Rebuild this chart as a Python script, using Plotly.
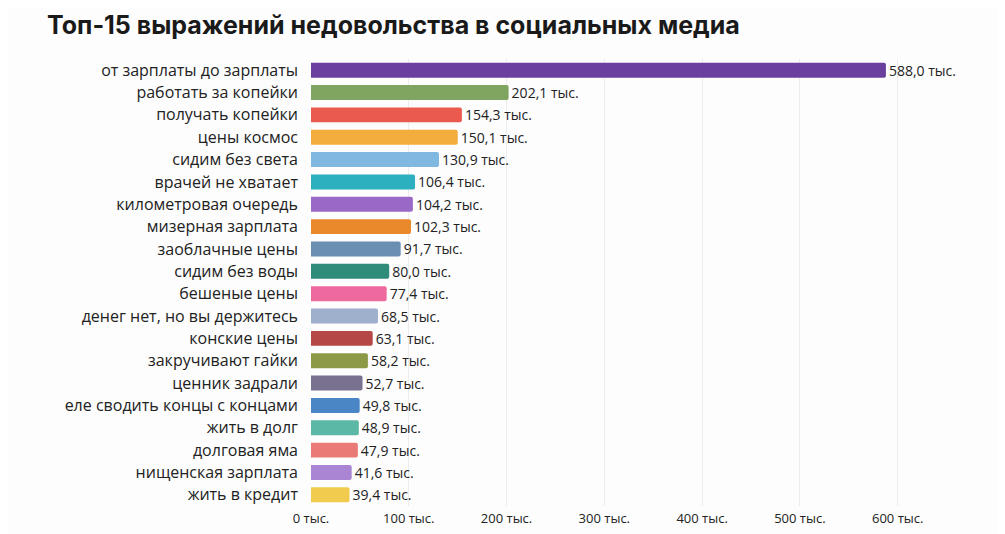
import plotly.graph_objects as go

categories = [
    "от зарплаты до зарплаты", "работать за копейки", "получать копейки", "цены космос",
    "сидим без света", "врачей не хватает", "километровая очередь", "мизерная зарплата",
    "заоблачные цены", "сидим без воды", "бешеные цены", "денег нет, но вы держитесь",
    "конские цены", "закручивают гайки", "ценник задрали", "еле сводить концы с концами",
    "жить в долг", "долговая яма", "нищенская зарплата", "жить в кредит",
]
values = [588.0, 202.1, 154.3, 150.1, 130.9, 106.4, 104.2, 102.3, 91.7, 80.0,
          77.4, 68.5, 63.1, 58.2, 52.7, 49.8, 48.9, 47.9, 41.6, 39.4]
colors = [
    "#6a3f9e", "#7fa561", "#ea5a4e", "#f2ad3d", "#80b8e2", "#2cb0c0", "#9a68c6",
    "#e9892b", "#6a8fb2", "#2f8b7a", "#ee6a9e", "#9fb0cd", "#b54846", "#8c9a48",
    "#79718f", "#4a86c6", "#5cb8a6", "#e97a76", "#a985d4", "#f1cb4e",
]
tick_vals = [0, 100, 200, 300, 400, 500, 600]
tick_text = [f"{v} тыс." for v in tick_vals]
labels = [f"{v:.1f}".replace(".", ",") + " тыс." for v in values]

FONT = "Open Sans"

fig = go.Figure(go.Bar(
    x=values, y=categories, orientation="h",
    marker=dict(color=colors, line=dict(width=0), cornerradius=2),
    text=labels, textposition="outside", cliponaxis=False, constraintext="none",
    textfont=dict(family=FONT, size=14, color="#222222"),
    width=0.67,
))

fig.update_layout(
    width=1005, height=534,
    paper_bgcolor="#fdfdfd", plot_bgcolor="#fdfdfd",
    margin=dict(l=303, r=86, t=51, b=36),
    showlegend=False,
    title=dict(text="<b>Топ-15 выражений недовольства в социальных медиа</b>",
               x=39/1005, xanchor="left", y=1 - 17/534, yanchor="middle",
               font=dict(family="Inter", size=25, color="#1a1a1a")),
    font=dict(family=FONT, color="#222222"),
    xaxis=dict(range=[0, 630], tickvals=tick_vals, ticktext=tick_text,
               showgrid=True, gridcolor="#ececec", gridwidth=1, zeroline=False,
               showline=False, tickfont=dict(family=FONT, size=13, color="#222222"),
               ticks="", ticklabelstandoff=3),
    yaxis=dict(range=[19.5, -0.5], showgrid=False, zeroline=False, showline=False,
               ticks="", ticklabelstandoff=12,
               tickfont=dict(family=FONT, size=16, color="#222222")),
)

fig.write_html("out.html")
